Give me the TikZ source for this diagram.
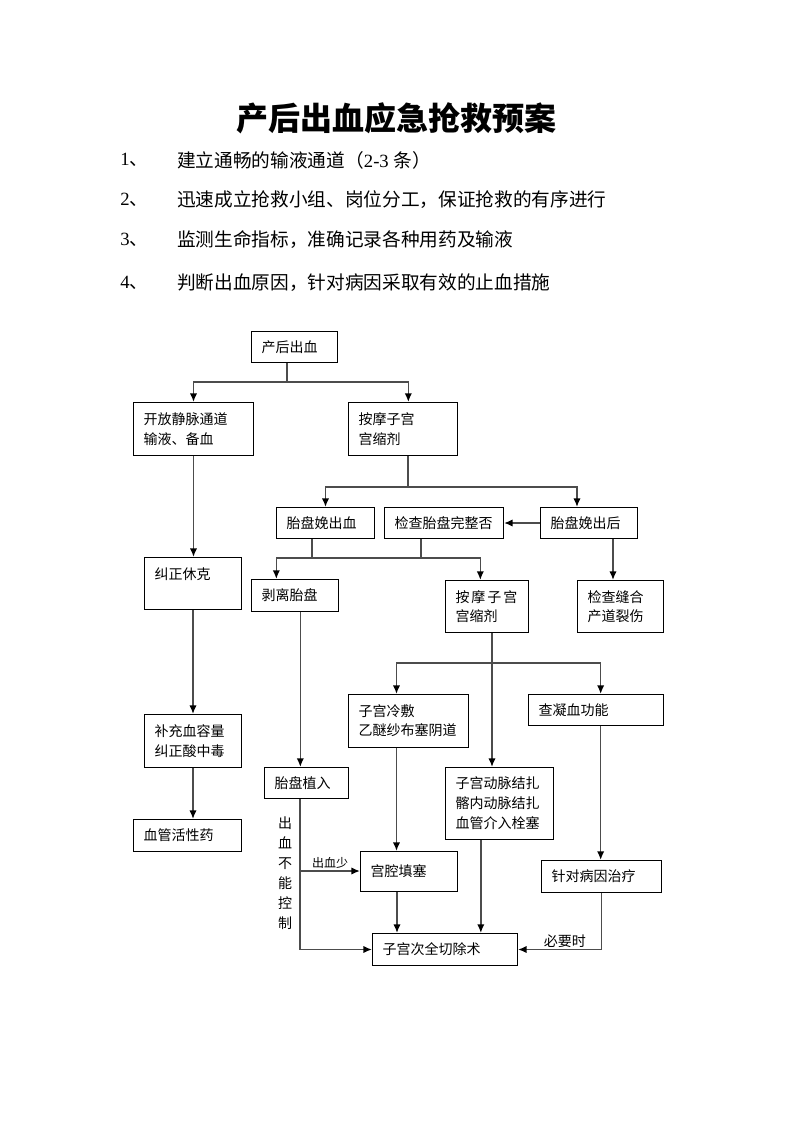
\documentclass[tikz,border=0pt]{standalone}
\usepackage{fontspec}
\setmainfont{Noto Sans CJK SC}
\newfontfamily\latinfont{Liberation Serif}
\usetikzlibrary{arrows.meta}

\begin{document}
\begin{tikzpicture}[x=0.75pt, y=-0.75pt,
    box/.style={draw, line width=0.75pt, anchor=north west, inner xsep=7.5pt, inner ysep=0pt,
        align=left, font=\fontsize{10.5}{14.5}\selectfont},
    line/.style={draw=black!70, line width=1.2pt},
    arr/.style={line, -{Latex[black, length=6.5pt, width=5.5pt]}},
    tag/.style={inner sep=1pt, font=\fontsize{10.5}{15}\selectfont}]
    \useasboundingbox (0,0) rectangle (793,1122);

    % title and list
    \node[font=\fontsize{24}{28}\selectfont\bfseries] (title) at (396,118) {产后出血应急抢救预案};
    \foreach \i/\yy/\txt in {1/160/建立通畅的输液通道（{\latinfont 2-3\ }条）,
                              2/200/迅速成立抢救小组、岗位分工，保证抢救的有序进行,
                              3/240/监测生命指标，准确记录各种用药及输液,
                              4/283/判断出血原因，针对病因采取有效的止血措施}{
        \node[anchor=west, inner sep=0pt, font=\fontsize{14}{16}\selectfont] (n\i) at (120,\yy) {{\latinfont\i}、};
        \node[anchor=west, inner sep=0pt, font=\fontsize{14}{16}\selectfont] (t\i) at (177,\yy) {\txt};
    }

    % boxes
    \node[box, text width=49.5pt, minimum height=23.25pt] (pph) at (251,331) {产后出血};
    \node[box, text width=75pt, minimum height=39.75pt] (iv) at (133,402) {开放静脉通道\\输液、备血};
    \node[box, text width=66.75pt, minimum height=39.75pt] (mass) at (348,402) {按摩子宫\\宫缩剂};
    \node[box, text width=58.5pt, minimum height=23.25pt] (placbl) at (276,507) {胎盘娩出血};
    \node[box, text width=74.25pt, minimum height=23.25pt] (check) at (384,507) {检查胎盘完整否};
    \node[box, text width=57.75pt, minimum height=23.25pt] (placaft) at (540,507) {胎盘娩出后};
    \node[box, text width=57.75pt, minimum height=39pt] (shock) at (144,557) {纠正休克\\~};
    \node[box, text width=50.25pt, minimum height=24pt] (peel) at (251,579) {剥离胎盘};
    \node[box, text width=47.25pt, minimum height=39pt] (mass2) at (445,580) {按\kern1.5pt 摩\kern1.5pt 子\kern1.5pt 宫\\宫缩剂};
    \node[box, text width=49.5pt, minimum height=39pt] (suture) at (577,580) {检查缝合\\产道裂伤};
    \node[box, text width=75pt, minimum height=39.75pt] (cold) at (348,694) {子宫冷敷\\乙醚纱布塞阴道};
    \node[box, text width=86.25pt, minimum height=23.25pt] (coag) at (528,694) {查凝血功能};
    \node[box, text width=57.75pt, minimum height=39.75pt] (vol) at (144,714) {补充血容量\\纠正酸中毒};
    \node[box, text width=48pt, minimum height=23.25pt] (accr) at (264,767) {胎盘植入};
    \node[box, text width=66pt, minimum height=54pt, font=\fontsize{10.5}{15}\selectfont] (ligate) at (445,767) {子宫动脉结扎\\髂内动脉结扎\\血管介入栓塞};
    \node[box, text width=66pt, minimum height=24pt] (vaso) at (133,819) {血管活性药};
    \node[box, text width=57.75pt, minimum height=30pt] (pack) at (360,851) {宫腔填塞};
    \node[box, text width=75pt, minimum height=24pt] (cause) at (541,860) {针对病因治疗};
    \node[box, text width=93.75pt, minimum height=24pt] (hyst) at (372,933) {子宫次全切除术};

    % junctions
    \coordinate (s1) at (287,382);
    \coordinate (s2) at (408,487);
    \coordinate (s3) at (312,558);
    \coordinate (s4) at (421,558);
    \coordinate (s5) at (492,663);
    \coordinate (b1) at (300,871);

    % connectors
    \draw[line] (pph.south -| s1) -- (s1);
    \draw[arr] (s1) -| (iv);
    \draw[arr] (s1) -| ([xshift=4pt]mass.north);
    \draw[arr] (iv.south) -- (iv.south |- shock.north);
    \draw[arr] (shock) -- (vol);
    \draw[arr] (vol.south) -- (vol.south |- vaso.north);

    \draw[line] (mass.south -| s2) -- (s2);
    \draw[arr] (s2) -| (placbl);
    \draw[arr] (s2) -| ([xshift=-9pt]placaft.north);
    \draw[arr] (placaft) -- (check);
    \draw[arr] ([xshift=18pt]placaft.south) -- ([xshift=18pt]placaft.south |- suture.north);

    \draw[line] (placbl.south -| s3) -- (s3);
    \draw[line] (check.south -| s4) -- (s4);
    \draw[arr] (s4) -| ([xshift=-5pt]mass2.north);
    \draw[arr] (s4) -| ([xshift=-14pt]peel.north);

    \draw[arr] ([xshift=4pt]peel.south) -- ([xshift=4pt]peel.south |- accr.north);
    \draw[arr] (mass2.south -| s5) -- (s5 |- ligate.north);
    \draw[arr] (s5) -| ([xshift=-9pt]cold.north);
    \draw[arr] (s5) -| ([xshift=3.5pt]coag.north);

    \draw[arr] ([xshift=-9pt]cold.south) -- ([xshift=-9pt]cold.south |- pack.north);
    \draw[arr] ([xshift=-9pt]pack.south) -- ([xshift=-9pt]pack.south |- hyst.north);
    \draw[arr] ([xshift=-14pt]ligate.south) -- ([xshift=-14pt]ligate.south |- hyst.north);
    \draw[arr] ([xshift=3.5pt]coag.south) -- ([xshift=3.5pt]coag.south |- cause.north);
    \draw[arr] (cause.south) |- (hyst.east) node[tag, above, pos=0.72] {必要时};

    \draw[arr] (accr.south -| b1) |- (hyst.west);
    \draw[arr] (b1) -- (b1 -| pack.west) node[tag, midway, above, font=\fontsize{9}{10}\selectfont] {出血少};
    \node[tag, align=center, font=\fontsize{10.5}{15}\selectfont] (stop) at (285,873) {出\\血\\不\\能\\控\\制};
\end{tikzpicture}
\end{document}
